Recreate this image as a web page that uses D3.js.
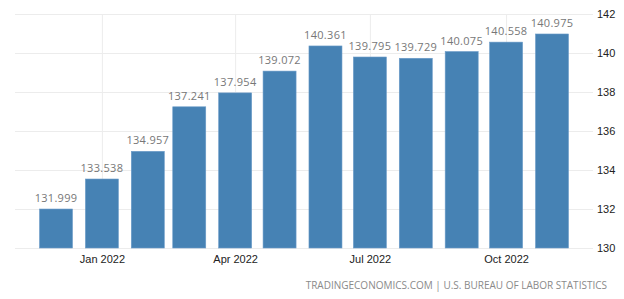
<!DOCTYPE html>
<html>
<head>
<meta charset="utf-8">
<script src="https://cdnjs.cloudflare.com/ajax/libs/d3/7.8.5/d3.min.js"></script>
<style>
  html, body { margin: 0; padding: 0; background: #fff; }
  svg { display: block; font-family: "Open Sans", sans-serif; }
</style>
</head>
<body>
<div id="chart"></div>
<script>
// monthly values, Dec 2021 .. Nov 2022
const months = ['2021-12', '2022-01', '2022-02', '2022-03', '2022-04', '2022-05',
                '2022-06', '2022-07', '2022-08', '2022-09', '2022-10', '2022-11']
const values = [131.999, 133.538, 134.957, 137.241, 137.954, 139.072,
                140.361, 139.795, 139.729, 140.075, 140.558, 140.975]
const yTicks = [130, 132, 134, 136, 138, 140, 142]
const xTickMonths = ['2022-01', '2022-04', '2022-07', '2022-10']
const source = 'TRADINGECONOMICS.COM | U.S. BUREAU OF LABOR STATISTICS'

const parseMonth = d3.timeParse('%Y-%m')

const svgWidth = 624, svgHeight = 299
const margin = { top: 14, right: 31, bottom: 51, left: 15 }
const width = svgWidth - margin.left - margin.right
const height = svgHeight - margin.top - margin.bottom
const pad = 41 // space between plot edge and first / last bar centre
const barWidth = 33

const data = months.map((m, i) => ({ date: parseMonth(m), value: values[i] }))

const svg = d3.select('#chart').append('svg')
    .attr('width', svgWidth)
    .attr('height', svgHeight)

const g = svg.append('g')
    .attr('transform', 'translate(' + margin.left + ', ' + margin.top + ')')

const x = d3.scaleTime()
    .domain(d3.extent(data, d => d.date))
    .range([pad, width - pad])

const y = d3.scaleLinear()
    .domain([130, 142])
    .range([height, 0])

// horizontal grid + right axis labels
const yAxis = g.append('g')
    .attr('class', 'y-axis')
    .attr('transform', 'translate(' + width + ',0)')
    .call(d3.axisRight(y).tickValues(yTicks).tickSize(-width).tickPadding(4))
yAxis.select('.domain').remove()
yAxis.selectAll('.tick line').attr('stroke', '#ececec')
yAxis.selectAll('.tick text')
    .attr('fill', '#222')
    .attr('font-size', '11px')

// vertical grid + month labels
const xAxis = g.append('g')
    .attr('class', 'x-axis')
    .attr('transform', 'translate(0,' + height + ')')
    .call(d3.axisBottom(x)
        .tickValues(xTickMonths.map(parseMonth))
        .tickFormat(d3.timeFormat('%b %Y'))
        .tickSize(-height)
        .tickPadding(7))
xAxis.select('.domain').remove()
xAxis.selectAll('.tick line').attr('stroke', '#ececec')
xAxis.selectAll('.tick text')
    .attr('fill', '#222')
    .attr('font-size', '11px')

// bars
g.selectAll('rect.bar').data(data).join('rect')
    .attr('class', 'bar')
    .attr('x', d => x(d.date) - barWidth / 2)
    .attr('width', barWidth)
    .attr('y', d => y(d.value))
    .attr('height', d => height - y(d.value))
    .attr('fill', '#4682b4')
    .attr('stroke', '#6b9bc8')
    .attr('stroke-width', 0.6)

// value labels
g.selectAll('text.val').data(data).join('text')
    .attr('class', 'val')
    .attr('x', d => x(d.date))
    .attr('y', d => y(d.value) - 7)
    .attr('text-anchor', 'middle')
    .attr('fill', '#777')
    .attr('font-size', '11px')
    .attr('letter-spacing', '0.3px')
    .text(d => d3.format('.3f')(d.value))

// source line
svg.append('text')
    .attr('x', 607)
    .attr('y', 289)
    .attr('text-anchor', 'end')
    .attr('fill', '#8a8a8a')
    .attr('font-size', '10px')
    .text(source)
</script>
</body>
</html>
